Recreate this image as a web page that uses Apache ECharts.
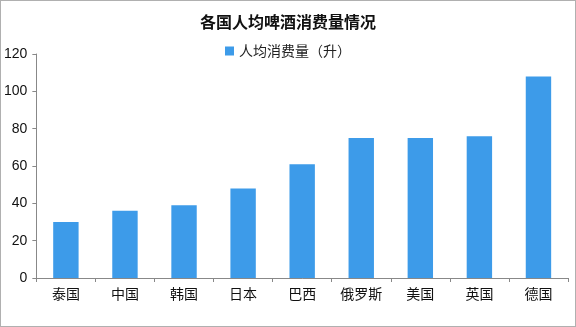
<!DOCTYPE html>
<html><head><meta charset="utf-8">
<script src="https://cdn.jsdelivr.net/npm/echarts@6/dist/echarts.min.js"></script>
<style>html,body{margin:0;padding:0;background:#fff}#c{width:576px;height:327px;box-sizing:border-box;border:1px solid #b0b0b0}</style>
</head><body><div id="c"></div>
<script>
var categories = ['泰国','中国','韩国','日本','巴西','俄罗斯','美国','英国','德国'];
var values = [30, 36, 39, 48, 61, 75, 75, 76, 108];
var seriesName = '人均消费量（升）';
var titleText = '各国人均啤酒消费量情况';
var chart = echarts.init(document.getElementById('c'));
chart.setOption({
  animation:false,
  backgroundColor:'#fff',
  title:{text:titleText,left:'center',top:8,textStyle:{fontFamily:'Noto Sans CJK SC',fontSize:16,fontWeight:'bold',color:'#111'}},
  legend:{data:[seriesName],top:38,left:'center',itemWidth:9,itemHeight:9,itemGap:3,icon:'rect',
    textStyle:{fontFamily:'Noto Sans CJK SC',fontSize:14,color:'#222'}},
  grid:{left:34,right:7,top:53,bottom:48,containLabel:false},
  xAxis:{type:'category',data:categories,
    axisLine:{lineStyle:{color:'#888'}},
    axisTick:{show:true,alignWithLabel:false,length:4,lineStyle:{color:'#888'}},
    axisLabel:{fontFamily:'Noto Sans CJK SC',fontSize:14,color:'#111',margin:9}},
  yAxis:{type:'value',min:0,max:120,interval:20,
    axisLine:{show:true,lineStyle:{color:'#888'}},
    axisTick:{show:true,length:4,lineStyle:{color:'#888'}},
    splitLine:{show:false},
    axisLabel:{fontFamily:'Liberation Sans',fontSize:14,color:'#111',margin:9}},
  series:[{name:seriesName,type:'bar',data:values,barWidth:'43%',itemStyle:{color:'#3d9be9'}}]
});
</script></body></html>
